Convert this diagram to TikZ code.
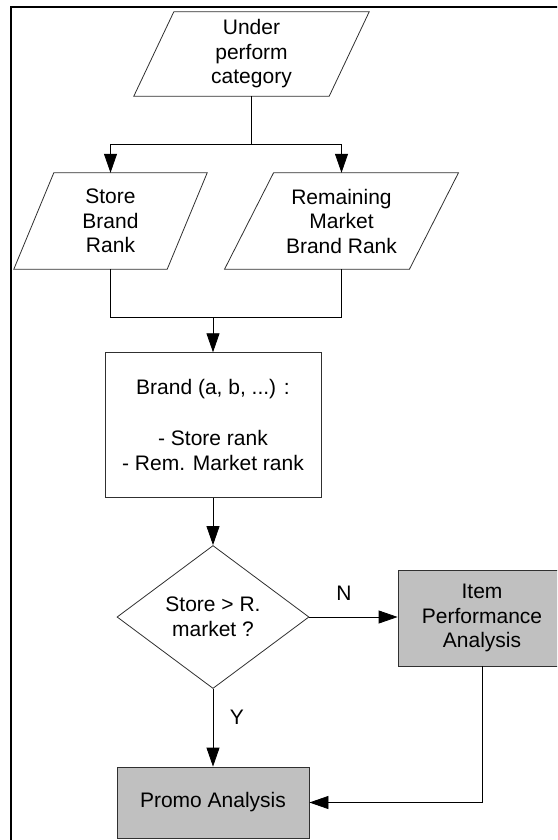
\documentclass[tikz,border=0pt]{standalone}
\usepackage{fontspec}
\setmainfont{Liberation Sans}
\usetikzlibrary{shapes.geometric,arrows.meta}
\definecolor{procgray}{HTML}{C0C0C0}
\definecolor{edgegray}{HTML}{303030}

% draws a parallelogram (data shape) over a named rectangular node
\newcommand\slantbox[2]{%
  \draw[outline] ([xshift=#2]#1.north west) -- ([xshift=#2]#1.north east)
    -- ([xshift=-#2]#1.south east) -- ([xshift=-#2]#1.south west) -- cycle;}

\begin{document}
\begin{tikzpicture}[x=1pt,y=-1pt,
  font=\fontsize{21}{24.5}\selectfont,
  line/.style={draw=black, line width=0.8pt},
  outline/.style={draw=edgegray, line width=0.8pt},
  flow/.style={line, -{Triangle[length=19pt,width=13pt]}},
  datanode/.style={rectangle, align=center, inner sep=0pt},
  procbox/.style={rectangle, outline, align=center, inner sep=0pt},
  grayproc/.style={procbox, fill=procgray},
  decision/.style={diamond, outline, align=center, inner sep=0pt, aspect=1.34},
  tag/.style={inner sep=0pt}
]
\useasboundingbox (0,0) rectangle (557,840);
\clip (0,0) rectangle (557,840);

% outer frame
\draw[line width=2pt] (11,7) rectangle (620,900);

% input data shapes
\node[datanode, minimum width=195pt, minimum height=84pt] (up) at (251.5,54)
  {Under\\perform\\category};
\slantbox{up}{20pt}
\node[datanode, minimum width=153pt, minimum height=96pt] (store) at (110.5,221)
  {Store\\Brand\\Rank};
\slantbox{store}{20pt}
\node[datanode, minimum width=184.5pt, minimum height=96pt] (remain) at (341.5,221)
  {Remaining\\Market\\Brand Rank};
\slantbox{remain}{24.5pt}

% brand ranking box
\node[procbox, minimum width=216pt, minimum height=144.6pt,
      font=\fontsize{21}{25.5}\selectfont] (brand) at (213,425)
  {Brand (a, b, ...) :\\ \mbox{}\\- Store rank\\- Rem. Market rank};

% decision
\node[decision, minimum width=192pt, minimum height=143pt] (decide) at (213,617)
  {Store > R.\\market ?};

% outcomes
\node[grayproc, minimum width=168pt, minimum height=96pt] (item) at (482,618)
  {Item\\Performance\\Analysis};
\node[grayproc, minimum width=192pt, minimum height=71pt] (promo) at (213,802.5)
  {Promo Analysis};

% connectors
\coordinate (split) at (251.5,144);
\coordinate (join) at (213,317);
\draw[line] (up.south) -- (split);
\draw[flow] (split) -| (store.north);
\draw[flow] (split) -| (remain.north);
\draw[line] (store.south) |- (join);
\draw[line] (remain.south) |- (join);
\draw[flow] (join) -- (brand.north);
\draw[flow] (brand.south) -- (decide.north);
\draw[flow] (decide.east) -- (decide.east -| item.west);
\draw[flow] (decide.south) -- (promo.north);
\draw[flow] (item.south) |- (promo.east);

% branch labels
\node[tag] (nlabel) at (344,593) {N};
\node[tag] (ylabel) at (237,717) {Y};
\end{tikzpicture}
\end{document}
